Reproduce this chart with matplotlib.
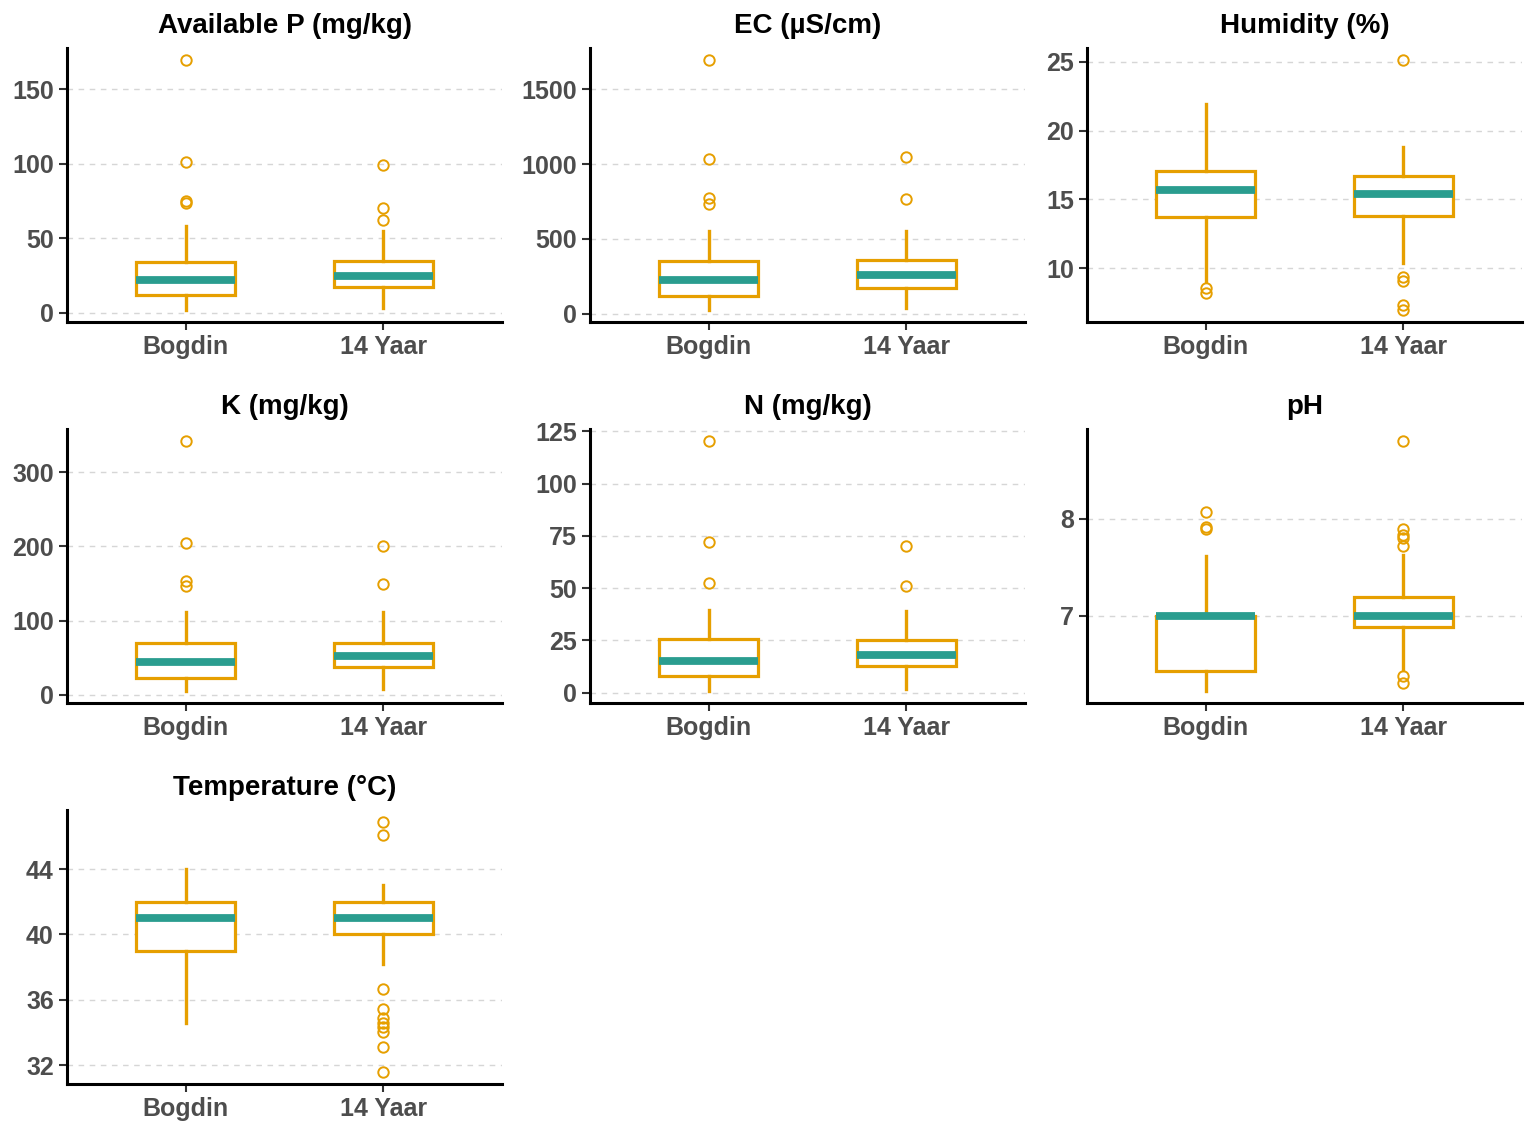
import numpy as np
import matplotlib.pyplot as plt

plt.rcParams['font.family'] = ['Liberation Sans', 'DejaVu Sans']

groups = ['Bogdin', '14 Yaar']
titles = ['Available P (mg/kg)', 'EC (µS/cm)', 'Humidity (%)',
          'K (mg/kg)', 'N (mg/kg)', 'pH', 'Temperature (°C)']

# five-number summaries per panel: [Bogdin, 14 Yaar]
whis_lo = [[2, 3.3], [27, 40], [9.06, 10.4], [5.4, 8], [1, 1.9], [6.23, 6.44], [34.6, 38.2]]
q1 = [[12, 17.3], [120, 173], [13.7, 13.8], [23, 37.8], [8.1, 12.9], [6.43, 6.89], [39, 40]]
med = [[22, 24.7], [227, 260], [15.7, 15.4], [44.6, 52.7], [15.3, 18.1], [7.0, 7.0], [41, 41]]
q3 = [[34, 34.7], [353, 360], [17.1, 16.7], [69, 69], [25.8, 25.3], [7.0, 7.19], [42, 42]]
whis_hi = [[58, 54.7], [553, 553], [21.9, 18.8], [112, 112], [39.6, 39.1], [7.62, 7.63], [44, 43]]
outliers = [
    [[169.3, 101.3, 74.7, 73.5], [99.3, 70, 62]],
    [[1693, 1033, 773, 733], [1047, 767]],
    [[8.55, 8.2], [25.1, 9.35, 9.1, 7.3, 7.0]],
    [[341.9, 205, 154, 146], [200, 150]],
    [[120.2, 72, 52.5], [70.1, 51]],
    [[8.07, 7.92, 7.9], [8.8, 7.9, 7.84, 7.8, 7.72, 6.38, 6.31]],
    [[], [46.85, 46.06, 36.67, 35.4, 34.85, 34.55, 34.3, 34.0, 33.1, 31.6]],
]
yticks = [[0, 50, 100, 150], [0, 500, 1000, 1500], [10, 15, 20, 25],
          [0, 100, 200, 300], [0, 25, 50, 75, 100, 125], [7, 8], [32, 36, 40, 44]]

orange = '#E69F00'
teal = '#2A9D8F'

W, H = 1535, 1131
fig = plt.figure(figsize=(W / 100, H / 100), dpi=100)
lefts = [67, 590, 1087]
tops = [48, 429, 810]
aw, ah = 435, 274

for i, title in enumerate(titles):
    r, c = divmod(i, 3)
    ax = fig.add_axes([lefts[c] / W, 1 - (tops[r] + ah) / H, aw / W, ah / H])
    stats = []
    for g in range(2):
        stats.append(dict(whislo=whis_lo[i][g], q1=q1[i][g], med=med[i][g],
                          q3=q3[i][g], whishi=whis_hi[i][g], fliers=outliers[i][g]))
    ax.bxp(stats, positions=[1, 2], widths=0.5, showcaps=False, patch_artist=True,
           boxprops=dict(facecolor='white', edgecolor=orange, linewidth=2.3),
           whiskerprops=dict(color=orange, linewidth=2.4),
           medianprops=dict(color=teal, linewidth=5.6, solid_capstyle='butt'),
           flierprops=dict(marker='o', markerfacecolor='none', markeredgecolor=orange,
                           markersize=7.5, markeredgewidth=1.4),
           zorder=3)
    ax.set_xlim(0.4, 2.6)
    ax.margins(y=0.05)
    ax.set_xticks([1, 2])
    ax.set_xticklabels(groups)
    ax.set_yticks(yticks[i])
    ax.yaxis.grid(True, linestyle=(0, (4, 4)), color='#D6D6D6', linewidth=1)
    ax.set_axisbelow(True)
    for s in ['top', 'right']:
        ax.spines[s].set_visible(False)
    for s in ['left', 'bottom']:
        ax.spines[s].set_linewidth(2.2)
        ax.spines[s].set_color('black')
    ax.tick_params(axis='both', length=5.5, width=1.5, color='#333333',
                   labelsize=18, labelcolor='#4D4D4D', pad=4)
    for lab in ax.get_xticklabels() + ax.get_yticklabels():
        lab.set_fontweight('bold')
    ax.set_title(title, fontsize=20, fontweight='bold', color='black', pad=11)

fig.savefig('out.png', dpi=100, facecolor='white')
